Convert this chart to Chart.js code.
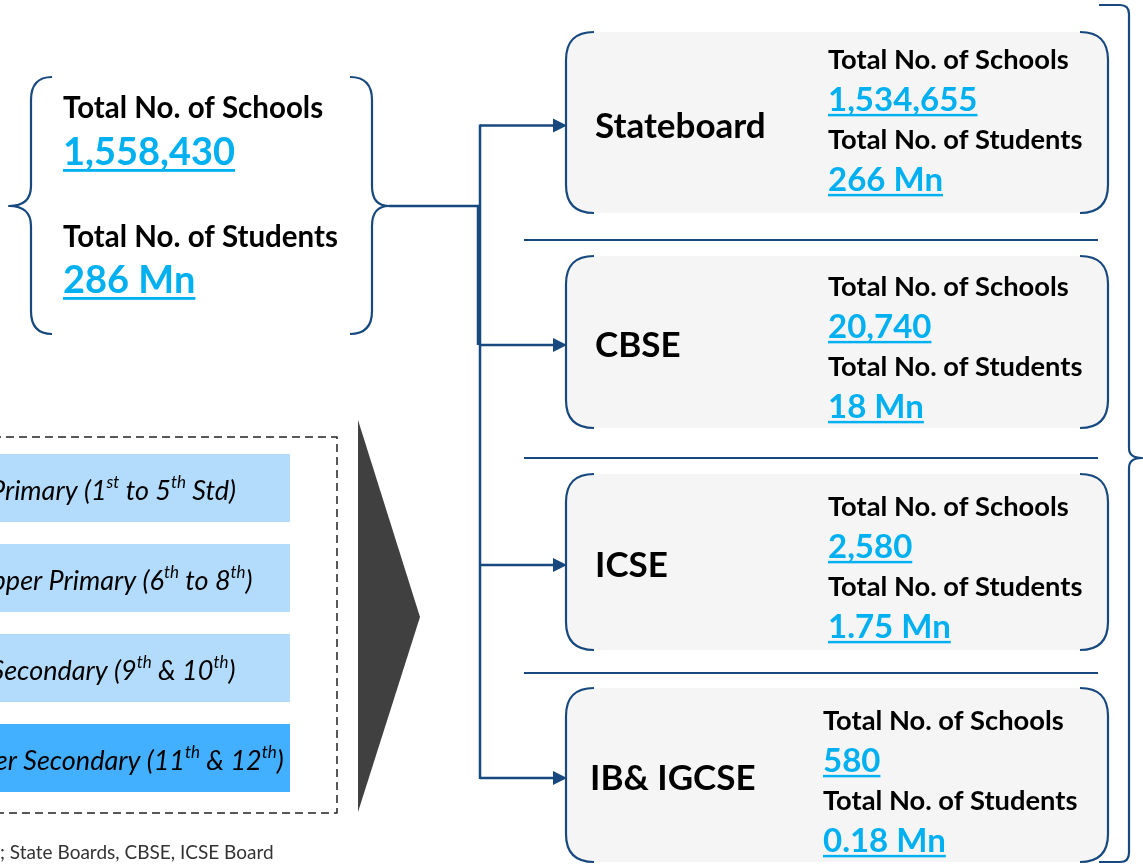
<!DOCTYPE html>
<html>
<head>
<meta charset="utf-8">
<script src="https://cdn.jsdelivr.net/npm/chart.js@4.4.1/dist/chart.umd.min.js"></script>
<style>
    html, body { margin: 0; padding: 0; background: #fff; overflow: hidden; }
    canvas { display: block; }
</style>
</head>
<body>
<canvas id="diagram" width="1143" height="864"></canvas>
<script>
(function () {
    'use strict';

    // data
    const totalSchools = 1558430;
    const totalStudentsMn = 286;
    const boards = ['Stateboard', 'CBSE', 'ICSE', 'IB& IGCSE'];
    const boardSchools = [1534655, 20740, 2580, 580];
    const boardStudentsMn = [266, 18, 1.75, 0.18];
    const levels = [
        'Primary (1^st to 5^th Std)',
        'Upper Primary (6^th to 8^th)',
        'Secondary (9^th & 10^th)',
        'Higher Secondary (11^th & 12^th)',
    ];
    const schoolsLabel = 'Total No. of Schools';
    const studentsLabel = 'Total No. of Students';
    const footnote = '; State Boards, CBSE, ICSE Board';

    // layout (diagram units = pixels of the 1143 x 864 frame)
    const W = 1143;
    const H = 864;
    const NAVY = '#17497f';
    const CYAN = '#00b0f0';
    const FONT = 'Lato, "Open Sans", sans-serif';
    const boxTop = [32, 256, 474, 688];
    const boxBottom = [213, 428, 650, 862];
    const boxLeft = 566;
    const boxRight = 1108;
    const nameX = [595, 595, 595, 590];
    const infoX = [828, 828, 828, 823];
    const infoTop = [60, 287, 507, 721];
    const separatorY = [240, 458, 673];
    const levelTop = [454, 544, 634, 724];
    const levelColors = ['#b3dcfc', '#b3dcfc', '#b3dcfc', '#42b0ff'];
    const trunkX = 480;

    const canvas = document.getElementById('diagram');

    const diagramPlugin = {
        id: 'diagram',
        afterDraw(chart) {
            const ctx = chart.ctx;
            const xs = chart.scales.x;
            const ys = chart.scales.y;
            const X = (v) => xs.getPixelForValue(v);
            const Y = (v) => ys.getPixelForValue(v);

            ctx.save();
            ctx.lineCap = 'butt';
            ctx.lineJoin = 'round';

            dibujarLlaveIzquierda(ctx, X, Y);
            dibujarConectores(ctx, X, Y);
            dibujarCajas(ctx, X, Y);
            dibujarNiveles(ctx, X, Y);
            dibujarLlaveDerecha(ctx, X, Y);

            texto(ctx, footnote, X(0), Y(853), 19, { color: '#333', weight: 'normal' });
            ctx.restore();
        },
    };

    function dibujarLlaveIzquierda(ctx, X, Y) {
        ctx.strokeStyle = NAVY;
        ctx.lineWidth = 2.2;

        ctx.beginPath();
        ctx.moveTo(X(52), Y(77));
        ctx.quadraticCurveTo(X(31), Y(77), X(31), Y(100));
        ctx.lineTo(X(31), Y(186));
        ctx.quadraticCurveTo(X(31), Y(206), X(9), Y(206));
        ctx.quadraticCurveTo(X(31), Y(206), X(31), Y(226));
        ctx.lineTo(X(31), Y(311));
        ctx.quadraticCurveTo(X(31), Y(334), X(52), Y(334));
        ctx.stroke();

        ctx.beginPath();
        ctx.moveTo(X(350), Y(77));
        ctx.quadraticCurveTo(X(372), Y(77), X(372), Y(100));
        ctx.lineTo(X(372), Y(186));
        ctx.quadraticCurveTo(X(372), Y(206), X(389), Y(206));
        ctx.quadraticCurveTo(X(372), Y(206), X(372), Y(226));
        ctx.lineTo(X(372), Y(311));
        ctx.quadraticCurveTo(X(372), Y(334), X(350), Y(334));
        ctx.stroke();

        texto(ctx, schoolsLabel, X(63), Y(108), 29.5, {});
        texto(ctx, totalSchools.toLocaleString('en-US'), X(63), Y(153), 38, { color: CYAN, underline: true });
        texto(ctx, studentsLabel, X(63), Y(237), 29.5, {});
        texto(ctx, `${totalStudentsMn} Mn`, X(63), Y(281), 38, { color: CYAN, underline: true });
    }

    function dibujarConectores(ctx, X, Y) {
        ctx.strokeStyle = NAVY;
        ctx.fillStyle = NAVY;
        ctx.lineWidth = 2.5;

        ctx.beginPath();
        ctx.moveTo(X(389), Y(206));
        ctx.lineTo(X(trunkX), Y(206));
        ctx.stroke();

        const arrowY = boards.map((b, i) => (boxTop[i] + boxBottom[i]) / 2 + 3);

        ctx.beginPath();
        ctx.moveTo(X(trunkX), Y(arrowY[0] - 1));
        ctx.lineTo(X(trunkX), Y(arrowY[arrowY.length - 1] + 1));
        ctx.stroke();

        // doubled segment between the brace and the second arrow
        ctx.beginPath();
        ctx.moveTo(X(trunkX - 2), Y(206));
        ctx.lineTo(X(trunkX - 2), Y(arrowY[1]));
        ctx.stroke();

        arrowY.forEach((y) => {
            ctx.beginPath();
            ctx.moveTo(X(trunkX), Y(y));
            ctx.lineTo(X(boxLeft - 12), Y(y));
            ctx.stroke();

            ctx.beginPath();
            ctx.moveTo(X(boxLeft + 1), Y(y));
            ctx.lineTo(X(boxLeft - 13), Y(y - 7));
            ctx.lineTo(X(boxLeft - 13), Y(y + 7));
            ctx.closePath();
            ctx.fill();
        });
    }

    function dibujarCajas(ctx, X, Y) {
        const r = 28;

        boards.forEach((board, i) => {
            const top = boxTop[i];
            const bottom = boxBottom[i];

            ctx.fillStyle = '#f5f5f5';
            ctx.beginPath();
            ctx.roundRect(X(boxLeft), Y(top), X(boxRight) - X(boxLeft), Y(bottom) - Y(top), r);
            ctx.fill();

            ctx.strokeStyle = NAVY;
            ctx.lineWidth = 2.2;
            ctx.beginPath();
            ctx.moveTo(X(boxLeft + r), Y(top));
            ctx.quadraticCurveTo(X(boxLeft), Y(top), X(boxLeft), Y(top + r));
            ctx.lineTo(X(boxLeft), Y(bottom - r));
            ctx.quadraticCurveTo(X(boxLeft), Y(bottom), X(boxLeft + r), Y(bottom));
            ctx.stroke();

            ctx.beginPath();
            ctx.moveTo(X(boxRight - r), Y(top));
            ctx.quadraticCurveTo(X(boxRight), Y(top), X(boxRight), Y(top + r));
            ctx.lineTo(X(boxRight), Y(bottom - r));
            ctx.quadraticCurveTo(X(boxRight), Y(bottom), X(boxRight - r), Y(bottom));
            ctx.stroke();

            const centro = (top + bottom) / 2 + 4;
            texto(ctx, board, X(nameX[i]), Y(centro), 35, {});

            const y0 = infoTop[i];
            texto(ctx, schoolsLabel, X(infoX[i]), Y(y0), 27.3, {});
            texto(ctx, boardSchools[i].toLocaleString('en-US'), X(infoX[i]), Y(y0 + 40), 33, { color: CYAN, underline: true });
            texto(ctx, studentsLabel, X(infoX[i]), Y(y0 + 80), 27.3, {});
            texto(ctx, `${boardStudentsMn[i]} Mn`, X(infoX[i]), Y(y0 + 120), 33, { color: CYAN, underline: true });
        });

        ctx.strokeStyle = NAVY;
        ctx.lineWidth = 2.2;
        separatorY.forEach((y) => {
            ctx.beginPath();
            ctx.moveTo(X(524), Y(y));
            ctx.lineTo(X(1098), Y(y));
            ctx.stroke();
        });
    }

    function dibujarNiveles(ctx, X, Y) {
        ctx.save();
        ctx.strokeStyle = '#222';
        ctx.lineWidth = 1.5;
        ctx.setLineDash([8, 5]);
        ctx.strokeRect(X(-20), Y(437), X(337) - X(-20), Y(813) - Y(437));
        ctx.restore();

        levels.forEach((nivel, i) => {
            const top = levelTop[i];
            ctx.fillStyle = levelColors[i];
            ctx.fillRect(X(-60), Y(top), X(290) - X(-60), Y(top + 68) - Y(top));
            textoConIndices(ctx, nivel, X(113), Y(top + 37), 27);
        });

        ctx.fillStyle = '#404040';
        ctx.beginPath();
        ctx.moveTo(X(358), Y(420));
        ctx.lineTo(X(420), Y(617));
        ctx.lineTo(X(358), Y(812));
        ctx.closePath();
        ctx.fill();
    }

    function dibujarLlaveDerecha(ctx, X, Y) {
        ctx.strokeStyle = NAVY;
        ctx.lineWidth = 2.2;
        ctx.beginPath();
        ctx.moveTo(X(1099), Y(5));
        ctx.lineTo(X(1120), Y(5));
        ctx.quadraticCurveTo(X(1129), Y(5), X(1129), Y(14));
        ctx.lineTo(X(1129), Y(448));
        ctx.quadraticCurveTo(X(1129), Y(458), X(1142), Y(458));
        ctx.quadraticCurveTo(X(1129), Y(458), X(1129), Y(468));
        ctx.lineTo(X(1129), Y(853));
        ctx.quadraticCurveTo(X(1129), Y(862), X(1120), Y(862));
        ctx.lineTo(X(1099), Y(862));
        ctx.stroke();
    }

    function texto(ctx, cadena, x, y, size, opciones) {
        const peso = opciones.weight || 'bold';
        ctx.font = `${opciones.italic ? 'italic ' : ''}${peso} ${size}px ${FONT}`;
        ctx.fillStyle = opciones.color || '#000';
        ctx.textAlign = 'left';
        ctx.textBaseline = 'middle';
        ctx.fillText(cadena, x, y);

        if (opciones.underline) {
            const ancho = ctx.measureText(cadena).width;
            ctx.fillRect(x, y + size * 0.42, ancho, Math.max(2, size * 0.075));
        }
    }

    function textoConIndices(ctx, cadena, centroX, y, size) {
        const partes = cadena.split(/\^(st|nd|rd|th)/);
        const fuenteNormal = `italic normal ${size}px ${FONT}`;
        const fuenteSup = `italic normal ${Math.round(size * 0.62)}px ${FONT}`;

        let ancho = 0;
        partes.forEach((parte, i) => {
            ctx.font = i % 2 ? fuenteSup : fuenteNormal;
            ancho += ctx.measureText(parte).width;
        });

        let x = centroX - ancho / 2;
        ctx.fillStyle = '#000';
        ctx.textAlign = 'left';
        ctx.textBaseline = 'middle';
        partes.forEach((parte, i) => {
            const sup = i % 2 === 1;
            ctx.font = sup ? fuenteSup : fuenteNormal;
            ctx.fillText(parte, x, sup ? y - size * 0.33 : y);
            x += ctx.measureText(parte).width;
        });
    }

    new Chart(canvas, {
        type: 'scatter',
        data: { datasets: [] },
        options: {
            responsive: false,
            animation: false,
            events: [],
            layout: { padding: 0 },
            plugins: {
                legend: { display: false },
                tooltip: { enabled: false },
            },
            scales: {
                x: { type: 'linear', min: 0, max: W, display: false },
                y: { type: 'linear', min: 0, max: H, reverse: true, display: false },
            },
        },
        plugins: [diagramPlugin],
    });
})();
</script>
</body>
</html>
